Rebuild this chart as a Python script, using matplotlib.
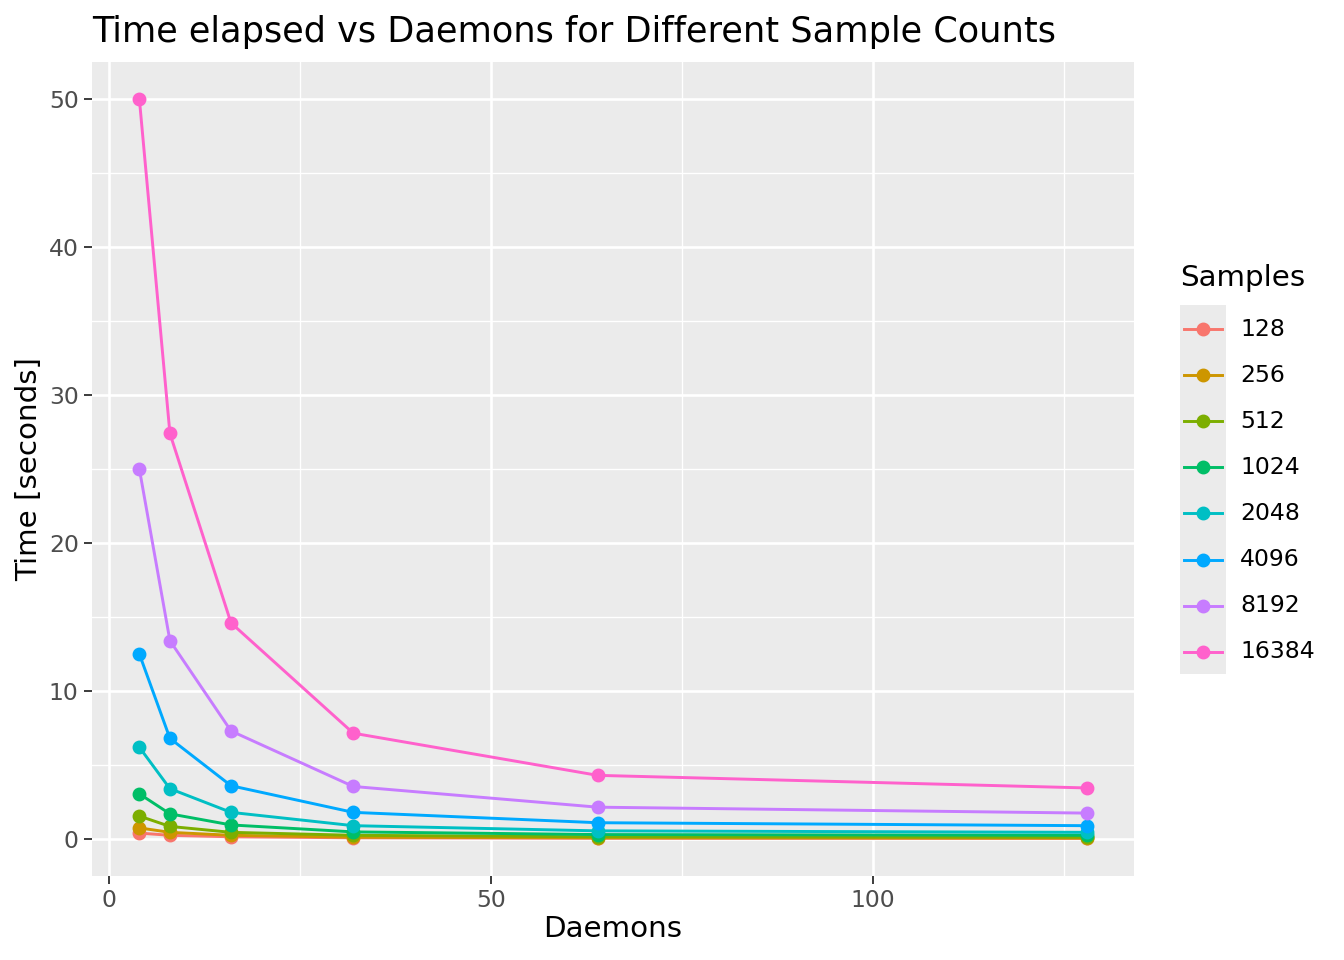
import matplotlib
matplotlib.use("Agg")
import matplotlib.pyplot as plt
from matplotlib.lines import Line2D
from matplotlib.patches import Rectangle

daemons = [4, 8, 16, 32, 64, 128]
samples = ["128", "256", "512", "1024", "2048", "4096", "8192", "16384"]
t_128 = [0.40, 0.25, 0.15, 0.08, 0.05, 0.04]
t_256 = [0.75, 0.45, 0.25, 0.12, 0.08, 0.06]
t_512 = [1.55, 0.85, 0.45, 0.25, 0.15, 0.12]
t_1024 = [3.05, 1.70, 0.95, 0.48, 0.30, 0.25]
t_2048 = [6.20, 3.40, 1.80, 0.90, 0.55, 0.45]
t_4096 = [12.5, 6.80, 3.60, 1.80, 1.10, 0.90]
t_8192 = [25.0, 13.4, 7.30, 3.55, 2.15, 1.75]
t_16384 = [50.0, 27.4, 14.6, 7.15, 4.30, 3.45]
times = [t_128, t_256, t_512, t_1024, t_2048, t_4096, t_8192, t_16384]
colors = ["#F8766D", "#CD9600", "#7CAE00", "#00BE67",
          "#00BFC4", "#00A9FF", "#C77CFF", "#FF61CC"]

W, H = 1344, 960
fig = plt.figure(figsize=(7, 5), dpi=192)
ax = fig.add_axes([92 / W, 1 - 876 / H, (1134 - 92) / W, (876 - 62) / H])
ax.set_facecolor("#EBEBEB")
for s in ax.spines.values():
    s.set_visible(False)

for y, c in zip(times, colors):
    ax.plot(daemons, y, color=c, lw=1.1, marker="o", ms=4.2, zorder=3)

ax.set_xlim(-2.2, 134.2)
ax.set_ylim(-2.5, 52.5)
ax.set_xticks([0, 50, 100])
ax.set_yticks([0, 10, 20, 30, 40, 50])
ax.set_xticks([25, 75, 125], minor=True)
ax.set_yticks([5, 15, 25, 35, 45], minor=True)
ax.grid(True, which="major", color="white", lw=1.0, zorder=0)
ax.grid(True, which="minor", color="white", lw=0.5, zorder=0)
ax.set_axisbelow(True)
ax.tick_params(which="major", length=3, width=0.7, color="#333333",
               labelsize=8.8, labelcolor="#4D4D4D", pad=2)
ax.tick_params(which="minor", length=0)
ax.set_xlabel("Daemons", fontsize=11, labelpad=1)
ax.set_ylabel("Time [seconds]", fontsize=11, labelpad=2)
fig.text(92 / W, 1 - 42 / H, "Time elapsed vs Daemons for Different Sample Counts",
         fontsize=13.2, ha="left", va="baseline")

# legend, ggplot style
fig.text(1180 / W, 1 - 278 / H, "Samples", fontsize=11, ha="left", va="center")
fig.patches.append(Rectangle((1180 / W, 1 - 674 / H), 46 / W, 369 / H,
                             transform=fig.transFigure, facecolor="#EBEBEB",
                             edgecolor="none"))
for i, (lab, c) in enumerate(zip(samples, colors)):
    py = 1 - (329 + i * 46.1) / H
    fig.lines.append(Line2D([1184 / W, 1222 / W], [py, py], transform=fig.transFigure,
                            color=c, lw=1.1))
    fig.lines.append(Line2D([1203 / W], [py], transform=fig.transFigure,
                            color=c, marker="o", ms=4.2))
    fig.text(1240 / W, py, lab, fontsize=8.8, ha="left", va="center")

fig.savefig("out.png", dpi=192)
